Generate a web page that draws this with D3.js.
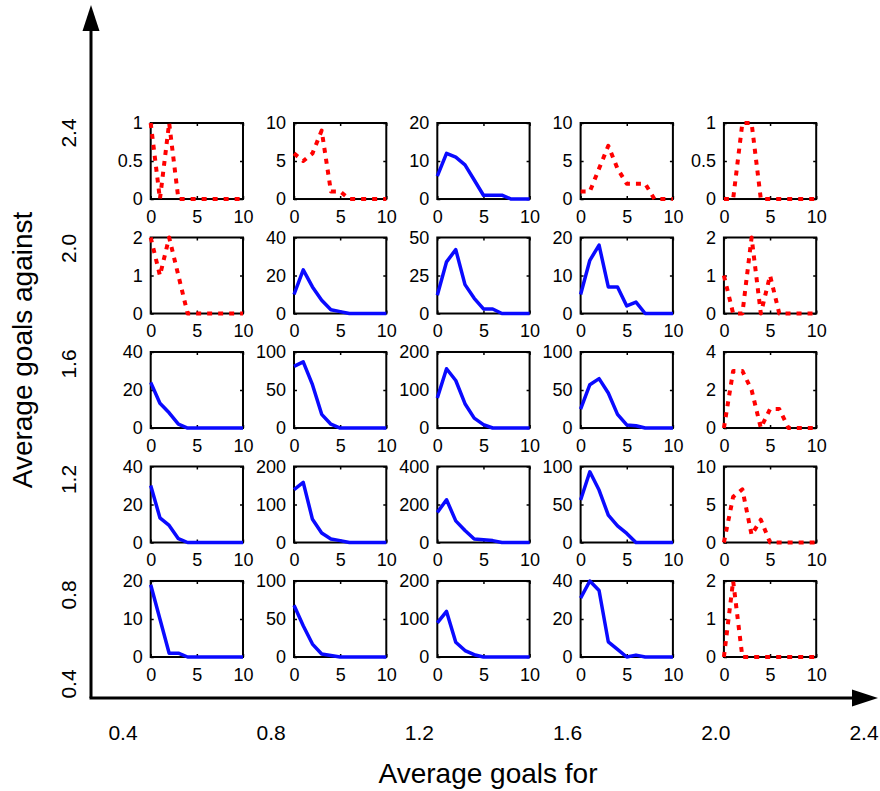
<!DOCTYPE html>
<html>
<head>
<meta charset="utf-8">
<script src="https://cdn.jsdelivr.net/npm/d3@7"></script>
<style>
body { margin: 0; background: #fff; }
svg { display: block; }
text { font-family: "Liberation Sans", Arial, sans-serif; fill: #000; }
</style>
</head>
<body>
<svg id="chart"></svg>
<script>
const width = 880, height = 791;

// goals in a match, shared x of every small panel
const goals = [0, 1, 2, 3, 4, 5, 6, 7, 8, 9, 10];
const panelXTicks = [0, 5, 10];

// outer axes: average goals for / against
const forTicks = [0.4, 0.8, 1.2, 1.6, 2.0, 2.4];
const againstTicks = [2.4, 2.0, 1.6, 1.2, 0.8, 0.4];

// y max of each panel, rows from top (against 2.0-2.4) to bottom (0.4-0.8)
const panelMax = [
  [1, 10, 20, 10, 1],
  [2, 40, 50, 20, 2],
  [40, 100, 200, 100, 4],
  [40, 200, 400, 100, 10],
  [20, 100, 200, 40, 2]
];

// panels with few matches (drawn dotted)
const fewMatches = [
  [1, 1, 0, 1, 1],
  [1, 0, 0, 0, 1],
  [0, 0, 0, 0, 1],
  [0, 0, 0, 0, 1],
  [0, 0, 0, 0, 1]
];

// number of matches by goals, one row per band of goals against
const against24 = [
  [1, 0, 1, 0, 0, 0, 0, 0, 0, 0, 0],
  [6, 5, 6, 9, 1, 1, 0, 0, 0, 0, 0],
  [6, 12, 11, 9, 5, 1, 1, 1, 0, 0, 0],
  [1, 1, 4, 7, 4, 2, 2, 2, 0, 0, 0],
  [0, 0, 1, 1, 0, 0, 0, 0, 0, 0, 0]
];
const against20 = [
  [2, 1, 2, 1, 0, 0, 0, 0, 0, 0, 0],
  [10, 23, 14, 7, 2, 1, 0, 0, 0, 0, 0],
  [12, 34, 42, 19, 10, 3, 3, 0, 0, 0, 0],
  [5, 14, 18, 7, 7, 2, 3, 0, 0, 0, 0],
  [1, 0, 0, 2, 0, 1, 0, 0, 0, 0, 0]
];
const against16 = [
  [24, 13, 8, 2, 0, 0, 0, 0, 0, 0, 0],
  [81, 87, 57, 18, 5, 0, 0, 0, 0, 0, 0],
  [79, 156, 125, 64, 26, 9, 0, 0, 0, 0, 0],
  [25, 57, 65, 46, 18, 4, 3, 0, 0, 0, 0],
  [0, 3, 3, 2, 0, 1, 1, 0, 0, 0, 0]
];
const against12 = [
  [30, 13, 9, 2, 0, 0, 0, 0, 0, 0, 0],
  [139, 158, 61, 25, 9, 5, 0, 0, 0, 0, 0],
  [158, 225, 114, 63, 18, 14, 10, 0, 0, 0, 0],
  [56, 93, 69, 36, 22, 12, 0, 0, 0, 0, 0],
  [0, 6, 7, 1, 3, 0, 0, 0, 0, 0, 0]
];
const against08 = [
  [19, 10, 1, 1, 0, 0, 0, 0, 0, 0, 0],
  [68, 41, 17, 4, 2, 0, 0, 0, 0, 0, 0],
  [90, 120, 39, 17, 6, 0, 0, 0, 0, 0, 0],
  [31, 40, 35, 8, 4, 0, 1, 0, 0, 0, 0],
  [0, 2, 0, 0, 0, 0, 0, 0, 0, 0, 0]
];
const rows = [against24, against20, against16, against12, against08];

const svg = d3.select('#chart')
  .attr('width', width)
  .attr('height', height);

// ---- outer frame (arrows) ----
const originX = 91, originY = 698;

svg.append('line')
  .attr('x1', originX).attr('y1', originY)
  .attr('x2', originX).attr('y2', 28)
  .attr('stroke', '#000').attr('stroke-width', 3);
svg.append('path')
  .attr('d', `M${originX},5 L${originX - 8.5},31 L${originX + 8.5},31 Z`)
  .attr('fill', '#000');

svg.append('line')
  .attr('x1', originX - 1.5).attr('y1', originY)
  .attr('x2', 855).attr('y2', originY)
  .attr('stroke', '#000').attr('stroke-width', 3);
svg.append('path')
  .attr('d', `M878,${originY} L852,${originY - 8.5} L852,${originY + 8.5} Z`)
  .attr('fill', '#000');

const forScale = d3.scaleLinear().domain([0.4, 2.4]).range([123, 864]);
const againstScale = d3.scaleLinear().domain([0.8, 2.4]).range([595, 133]);

svg.append('g').selectAll('text')
  .data(forTicks)
  .enter().append('text')
  .attr('x', d => forScale(d))
  .attr('y', 740)
  .attr('text-anchor', 'middle')
  .style('font-size', '21px')
  .text(d => d.toFixed(1));

// lowest label is pulled up so it stays above the horizontal axis
svg.append('g').selectAll('text')
  .data(againstTicks)
  .enter().append('text')
  .attr('transform', d => `translate(76,${Math.min(againstScale(d), 684)}) rotate(-90)`)
  .attr('text-anchor', 'middle')
  .style('font-size', '21px')
  .text(d => d.toFixed(1));

svg.append('text')
  .attr('x', 488).attr('y', 783)
  .attr('text-anchor', 'middle')
  .style('font-size', '28px')
  .text('Average goals for');

svg.append('text')
  .attr('transform', 'translate(32,350) rotate(-90)')
  .attr('text-anchor', 'middle')
  .style('font-size', '28px')
  .text('Average goals against');

// ---- small multiples ----
const colScale = d3.scaleBand().domain(d3.range(5)).range([150.7, 816.2]).paddingInner(0.356);
const rowScale = d3.scaleBand().domain(d3.range(5)).range([123, 657]).paddingInner(0.336);
const pw = colScale.bandwidth(), ph = rowScale.bandwidth();

const x = d3.scaleLinear().domain([0, 10]).range([0, pw]);

rows.forEach((row, r) => {
  row.forEach((counts, c) => {
    const g = svg.append('g')
      .attr('transform', `translate(${colScale(c)},${rowScale(r)})`);
    const max = panelMax[r][c];
    const y = d3.scaleLinear().domain([0, max]).range([ph, 0]);
    const yTicks = [0, max / 2, max];

    const xAxisG = g.append('g').attr('transform', `translate(0,${ph})`)
      .call(d3.axisBottom(x).tickValues(panelXTicks).tickSizeInner(-3).tickSizeOuter(0).tickPadding(11).tickFormat(d => d));
    const yAxisG = g.append('g')
      .call(d3.axisLeft(y).tickValues(yTicks).tickSizeInner(-3).tickSizeOuter(0).tickPadding(8).tickFormat(d => d));
    const topG = g.append('g')
      .call(d3.axisTop(x).tickValues(panelXTicks).tickSizeInner(-3).tickSizeOuter(0).tickFormat(''));
    const rightG = g.append('g').attr('transform', `translate(${pw},0)`)
      .call(d3.axisRight(y).tickValues(yTicks).tickSizeInner(-3).tickSizeOuter(0).tickFormat(''));

    [xAxisG, yAxisG, topG, rightG].forEach(a => {
      a.select('.domain').remove();
      a.selectAll('line').attr('stroke-width', 1.5);
      a.selectAll('text')
        .style('font-family', '"Liberation Sans", Arial, sans-serif')
        .style('font-size', '18px')
        .attr('fill', '#000');
    });

    g.append('rect')
      .attr('width', pw).attr('height', ph)
      .attr('fill', 'none')
      .attr('stroke', '#000')
      .attr('stroke-width', 2);

    const line = d3.line()
      .x((d, i) => x(goals[i]))
      .y(d => y(d));

    const dotted = fewMatches[r][c] === 1;
    g.append('path')
      .datum(counts)
      .attr('d', line)
      .attr('fill', 'none')
      .attr('stroke', dotted ? '#ff0000' : '#0a0aff')
      .attr('stroke-width', dotted ? 4 : 3.5)
      .attr('stroke-dasharray', dotted ? '5,6' : null)
      .attr('stroke-linejoin', 'round');
  });
});
</script>
</body>
</html>
